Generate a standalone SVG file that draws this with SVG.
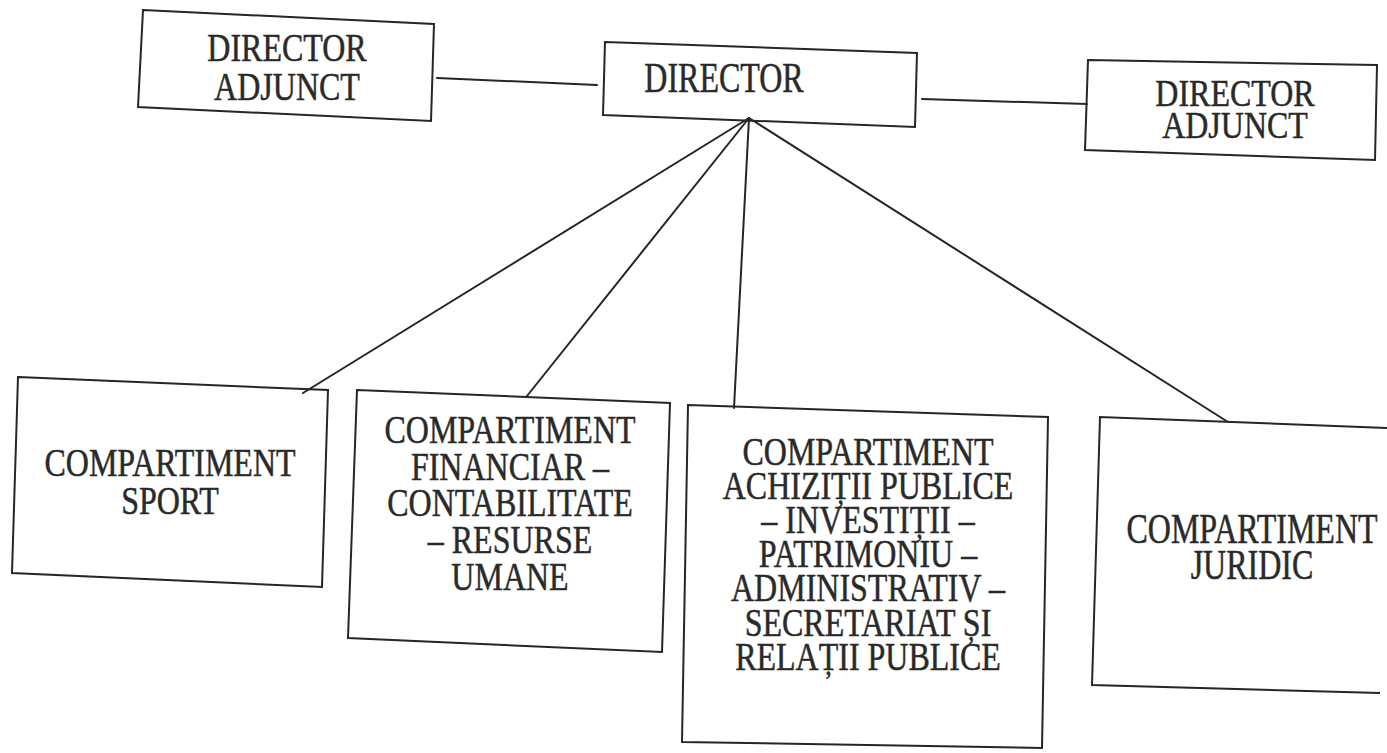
<svg xmlns="http://www.w3.org/2000/svg" width="1387" height="753" viewBox="0 0 1387 753">
<style>
.box{fill:none;stroke:#262626;stroke-width:2;stroke-linejoin:miter}
.con{fill:none;stroke:#262626;stroke-width:2;stroke-linecap:round}
.t{font-family:"Liberation Serif","Times New Roman",serif;font-size:32px;fill:#2a2a2a;stroke:#2a2a2a;stroke-width:0.4;text-anchor:middle}
</style>
<rect x="0" y="0" width="1387" height="753" fill="#ffffff"/>
<g id="connectors">
<line class="con" x1="437" y1="78" x2="597" y2="85"/>
<line class="con" x1="922" y1="99" x2="1087" y2="104"/>
<line class="con" x1="749" y1="118" x2="303" y2="393"/>
<line class="con" x1="749" y1="118" x2="527" y2="396"/>
<line class="con" x1="749" y1="118" x2="734" y2="408"/>
<line class="con" x1="749" y1="118" x2="1228" y2="422"/>
</g>
<g id="director-adjunct-left">
<polygon class="box" points="143,10 434,24 431,121 138,107"/>
<text class="t" transform="matrix(1 0 0 1.28 287 61)"><tspan x="0" y="0">DIRECTOR</tspan><tspan x="0" y="30.5">ADJUNCT</tspan></text>
</g>
<g id="director">
<polygon class="box" points="605,42 917,53 915,127 603,115"/>
<text class="t" transform="matrix(1 0 0 1.32 724 92)"><tspan x="0" y="0">DIRECTOR</tspan></text>
</g>
<g id="director-adjunct-right">
<polygon class="box" points="1088,60 1377,65 1375,160 1085,150"/>
<text class="t" transform="matrix(1 0 0 1.2 1235 106)"><tspan x="0" y="0">DIRECTOR</tspan><tspan x="0" y="26.7">ADJUNCT</tspan></text>
</g>
<g id="compartiment-sport">
<polygon class="box" points="18,377 328,390 322,587 12,573"/>
<text class="t" transform="matrix(1 0 0 1.28 170 476)"><tspan x="0" y="0">COMPARTIMENT</tspan><tspan x="0" y="29.7">SPORT</tspan></text>
</g>
<g id="compartiment-financiar">
<polygon class="box" points="357,390 670,403 662,652 348,638"/>
<text class="t" transform="matrix(1 0 0 1.22 510 443)"><tspan x="0" y="0">COMPARTIMENT</tspan><tspan x="0" y="30.1">FINANCIAR –</tspan><tspan x="0" y="60.2">CONTABILITATE</tspan><tspan x="0" y="90.3">– RESURSE</tspan><tspan x="0" y="120.4">UMANE</tspan></text>
</g>
<g id="compartiment-achizitii">
<polygon class="box" points="688,405 1048,417 1042,748 682,742"/>
<text class="t" transform="matrix(1 0 0 1.25 868 465)"><tspan x="0" y="0">COMPARTIMENT</tspan><tspan x="0" y="27.3">ACHIZIȚII PUBLICE</tspan><tspan x="0" y="54.6">– INVESTIȚII –</tspan><tspan x="0" y="81.9">PATRIMONIU –</tspan><tspan x="0" y="109.2">ADMINISTRATIV –</tspan><tspan x="0" y="136.5">SECRETARIAT ȘI</tspan><tspan x="0" y="163.8">RELAȚII PUBLICE</tspan></text>
</g>
<g id="compartiment-juridic">
<polyline class="box" points="1387,428 1100,417 1092,685 1380,693"/>
<text class="t" transform="matrix(1 0 0 1.3 1252 543)"><tspan x="0" y="0">COMPARTIMENT</tspan><tspan x="0" y="27.7">JURIDIC</tspan></text>
</g>
</svg>
